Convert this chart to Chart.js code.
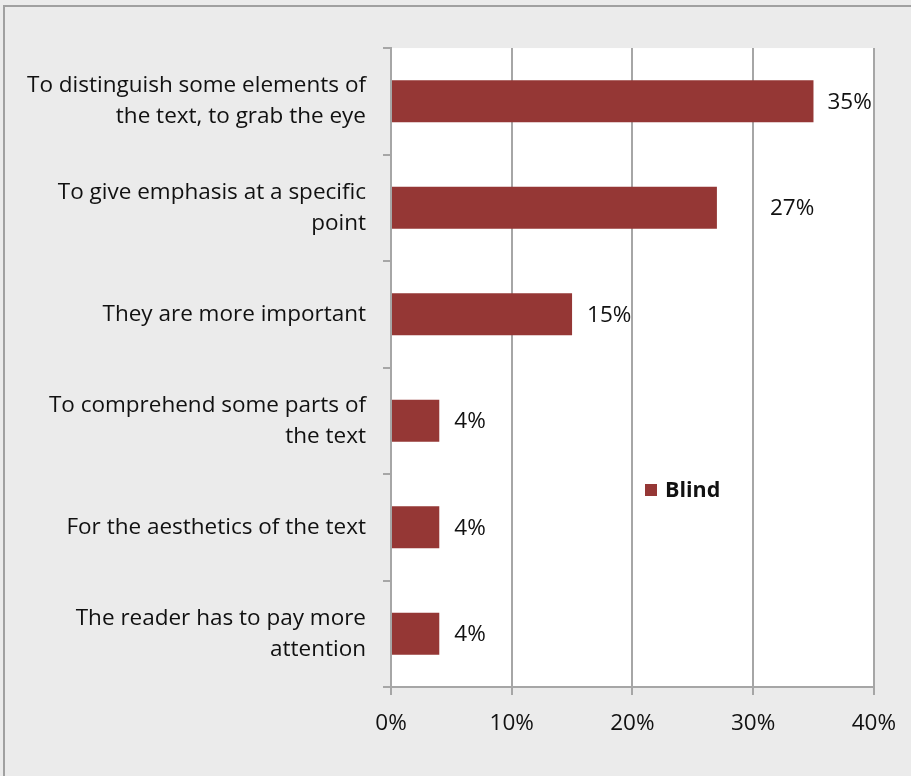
<!DOCTYPE html>
<html>
<head>
<meta charset="utf-8">
<script src="https://cdn.jsdelivr.net/npm/chart.js@4"></script>
<style>
  body { margin: 0; background: #ebebeb; }
  canvas { display: block; }
</style>
</head>
<body>
<canvas id="chart" width="911" height="776"></canvas>
<script>
// Dados
const categories = [
    ['To distinguish some elements of', 'the text, to grab the eye'],
    ['To give emphasis at a specific', 'point'],
    'They are more important',
    ['To comprehend some parts of', 'the text'],
    'For the aesthetics of the text',
    ['The reader has to pay more', 'attention']
];
const blindValues = [35, 27, 15, 4, 4, 4];
const xTicks = [0, 10, 20, 30, 40];
const seriesName = 'Blind';

// Estilo
const FONT = '"Open Sans", Lato, sans-serif';
const FONT_SIZE = 22.5;
const BAR_COLOR = '#953735';
const GRID_COLOR = '#a6a6a6';
const LABEL_GAP = [14, 53, 15, 15, 15, 15];

const backgroundPlugin = {
    id: 'background',
    beforeDraw: (chart) => {
        const { ctx, chartArea: a } = chart;
        ctx.save();
        ctx.fillStyle = '#ebebeb';
        ctx.fillRect(0, 0, chart.width, chart.height);
        ctx.strokeStyle = '#a0a0a0';
        ctx.lineWidth = 2;
        ctx.beginPath();
        ctx.moveTo(4, chart.height);
        ctx.lineTo(4, 6);
        ctx.lineTo(chart.width, 6);
        ctx.stroke();
        ctx.fillStyle = '#ffffff';
        ctx.fillRect(a.left, a.top, a.right - a.left, a.bottom - a.top);
        ctx.restore();
    }
};

const labelsPlugin = {
    id: 'valueLabels',
    afterDatasetsDraw: (chart) => {
        const { ctx } = chart;
        const meta = chart.getDatasetMeta(0);
        ctx.save();
        ctx.font = `${FONT_SIZE}px ${FONT}`;
        ctx.fillStyle = '#111';
        ctx.textBaseline = 'middle';
        meta.data.forEach((bar, i) => {
            ctx.fillText(`${blindValues[i]}%`, bar.x + LABEL_GAP[i], bar.y + 1);
        });
        // legenda
        ctx.fillStyle = BAR_COLOR;
        ctx.fillRect(645, 484, 12, 12);
        ctx.fillStyle = '#111';
        ctx.font = `bold ${FONT_SIZE - 1}px ${FONT}`;
        ctx.fillText(seriesName, 665, 491);
        ctx.restore();
    }
};

new Chart(document.getElementById('chart').getContext('2d'), {
    type: 'bar',
    data: {
        labels: categories,
        datasets: [{
            label: seriesName,
            data: blindValues,
            backgroundColor: BAR_COLOR,
            barPercentage: 0.395,
            categoryPercentage: 1
        }]
    },
    options: {
        indexAxis: 'y',
        responsive: false,
        animation: false,
        devicePixelRatio: 1,
        layout: { padding: { left: 0, top: 47, right: 37, bottom: 0 } },
        scales: {
            x: {
                min: 0,
                max: 40,
                afterBuildTicks: (axis) => { axis.ticks = xTicks.map(v => ({ value: v })); },
                afterFit: (axis) => { axis.height = 89; },
                border: { color: GRID_COLOR, width: 2 },
                grid: { color: GRID_COLOR, lineWidth: 2, tickLength: 8 },
                ticks: {
                    color: '#111',
                    padding: 15,
                    font: { family: FONT, size: FONT_SIZE },
                    callback: (v) => `${v}%`
                }
            },
            y: {
                afterFit: (axis) => { axis.width = 391; },
                border: { color: GRID_COLOR, width: 2 },
                grid: { drawOnChartArea: false, color: GRID_COLOR, lineWidth: 2, tickLength: 8, offset: true },
                ticks: {
                    color: '#111',
                    padding: 17,
                    font: { family: FONT, size: FONT_SIZE, lineHeight: 1.38 }
                }
            }
        },
        plugins: {
            legend: { display: false },
            tooltip: { enabled: false }
        }
    },
    plugins: [backgroundPlugin, labelsPlugin]
});
</script>
</body>
</html>
